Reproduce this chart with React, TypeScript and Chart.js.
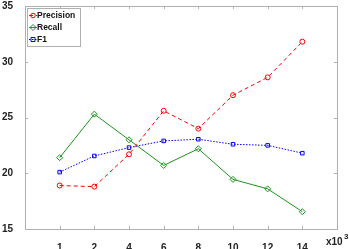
import React, { useEffect, useRef } from "react";
import { Chart, registerables } from "chart.js";

Chart.register(...registerables);

const categories = ["1", "2", "4", "6", "8", "10", "12", "14"];
const precision = [18.9, 18.8, 21.7, 25.6, 24.0, 27.0, 28.6, 31.8];
const recall = [21.4, 25.3, 23.0, 20.7, 22.2, 19.45, 18.6, 16.55];
const f1 = [20.1, 21.55, 22.3, 22.9, 23.05, 22.6, 22.5, 21.8];
const yTicks = [15, 20, 25, 30, 35];

const FONT = "'Liberation Sans', Arial, sans-serif";
const AXIS = "#b0b0b0";

const series = [
  { label: "Precision", data: precision, color: "#ff0000", dash: [4, 3], style: "circle", r: 2.5 },
  { label: "Recall", data: recall, color: "#1a961a", dash: [], style: "rectRot", r: 3 },
  { label: "F1", data: f1, color: "#0000ff", dash: [1.5, 1.5], style: "rect", r: 2.5 },
];

const framePlugin = {
  id: "frame",
  afterDraw(chart: any) {
    const { ctx, chartArea: a, scales } = chart;
    ctx.save();
    ctx.strokeStyle = AXIS;
    ctx.lineWidth = 1;
    ctx.strokeRect(a.left + 0.5, a.top + 0.5, a.right - a.left, a.bottom - a.top);
    const tl = 3;
    ctx.beginPath();
    categories.forEach((_, i) => {
      const x = Math.round(scales.x.getPixelForValue(i + 1)) + 0.5;
      ctx.moveTo(x, a.bottom);
      ctx.lineTo(x, a.bottom - tl);
      ctx.moveTo(x, a.top);
      ctx.lineTo(x, a.top + tl);
    });
    yTicks.forEach((v) => {
      const y = Math.round(scales.y.getPixelForValue(v)) + 0.5;
      ctx.moveTo(a.left, y);
      ctx.lineTo(a.left + tl, y);
      ctx.moveTo(a.right, y);
      ctx.lineTo(a.right - tl, y);
    });
    ctx.stroke();

    // exponent label
    ctx.fillStyle = "#222";
    ctx.textBaseline = "middle";
    ctx.textAlign = "left";
    ctx.font = `bold 10px ${FONT}`;
    ctx.fillText("x10", a.right - 11, a.bottom + 13);
    ctx.font = `bold 8px ${FONT}`;
    ctx.fillText("3", a.right + 7, a.bottom + 8);

    // legend
    const lx = a.left + 2;
    const ly = a.top + 2;
    const lw = 53;
    const lh = 38;
    ctx.fillStyle = "#ffffff";
    ctx.fillRect(lx, ly, lw, lh);
    ctx.strokeStyle = AXIS;
    ctx.strokeRect(lx + 0.5, ly + 0.5, lw, lh);
    series.forEach((s, i) => {
      const y = ly + 7.5 + i * 12;
      ctx.strokeStyle = s.color;
      ctx.lineWidth = 1;
      ctx.setLineDash(s.dash);
      ctx.beginPath();
      ctx.moveTo(lx + 2, y);
      ctx.lineTo(lx + 10, y);
      ctx.stroke();
      ctx.setLineDash([]);
      ctx.beginPath();
      if (s.style === "circle") {
        ctx.arc(lx + 6, y, 2.3, 0, Math.PI * 2);
      } else if (s.style === "rectRot") {
        ctx.moveTo(lx + 6, y - 3);
        ctx.lineTo(lx + 9, y);
        ctx.lineTo(lx + 6, y + 3);
        ctx.lineTo(lx + 3, y);
        ctx.closePath();
      } else {
        ctx.rect(lx + 4, y - 2, 4, 4);
      }
      ctx.stroke();
      ctx.fillStyle = "#111";
      ctx.font = `bold 8.5px ${FONT}`;
      ctx.textAlign = "left";
      ctx.textBaseline = "middle";
      ctx.fillText(s.label, lx + 10, y + 0.5);
    });
    ctx.restore();
  },
};

export default function App() {
  const ref = useRef<HTMLCanvasElement>(null);
  useEffect(() => {
    document.body.style.margin = "0";
    const chart = new Chart(ref.current!, {
      type: "line",
      data: {
        datasets: series.map((s) => ({
          label: s.label,
          data: s.data.map((v, i) => ({ x: i + 1, y: v })),
          borderColor: s.color,
          backgroundColor: "rgba(0,0,0,0)",
          borderWidth: 1,
          borderDash: s.dash,
          pointStyle: s.style as any,
          pointRadius: s.r,
          pointBorderColor: s.color,
          pointBackgroundColor: "rgba(0,0,0,0)",
          pointBorderWidth: 1,
          tension: 0,
          fill: false,
        })),
      },
      options: {
        animation: false,
        responsive: false,
        layout: { padding: { left: 0, right: 12, top: 6, bottom: 0 } },
        plugins: { legend: { display: false }, tooltip: { enabled: false } },
        scales: {
          x: {
            type: "linear",
            min: 0,
            max: 9,
            grid: { display: false },
            border: { display: false },
            afterBuildTicks: (s: any) => {
              s.ticks = categories.map((_, i) => ({ value: i + 1 }));
            },
            afterFit: (s: any) => {
              s.height = 20;
              s.paddingLeft = 0;
              s.paddingRight = 0;
            },
            ticks: {
              autoSkip: false,
              maxRotation: 0,
              padding: 5,
              color: "#222",
              font: { family: FONT, size: 10, weight: "bold" },
              callback: (v: any) => categories[Number(v) - 1] ?? "",
            },
          },
          y: {
            type: "linear",
            min: 15,
            max: 35,
            grid: { display: false },
            border: { display: false },
            afterBuildTicks: (s: any) => {
              s.ticks = yTicks.map((v) => ({ value: v }));
            },
            afterFit: (s: any) => {
              s.width = 25;
              s.paddingTop = 0;
              s.paddingBottom = 0;
            },
            ticks: {
              padding: 4,
              color: "#222",
              font: { family: FONT, size: 10, weight: "bold" },
            },
          },
        },
      },
      plugins: [framePlugin],
    });
    return () => chart.destroy();
  }, []);
  return (
    <div style={{ width: 349, height: 249, background: "#fff" }}>
      <canvas ref={ref} width={349} height={249} />
    </div>
  );
}
